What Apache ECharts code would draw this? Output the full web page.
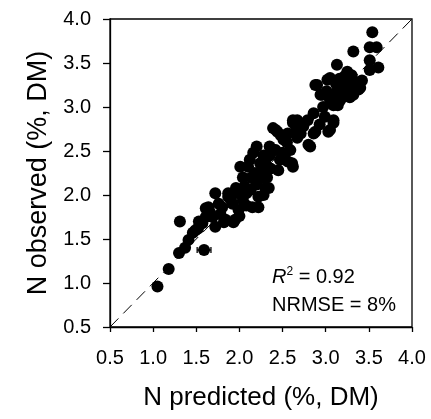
<!DOCTYPE html>
<html><head><meta charset="utf-8">
<script src="https://cdn.jsdelivr.net/npm/echarts@6/dist/echarts.min.js"></script>
<style>html,body{margin:0;padding:0;background:#fff}#c{width:431px;height:419px}</style>
</head><body><div id="c"></div>
<script>
var predicted = [1.05,1.18,1.30,1.37,1.41,1.46,1.49,1.52,1.57,1.31,1.61,1.64,1.61,1.69,1.72,1.72,1.80,1.82,1.84,1.87,1.87,1.93,1.95,1.99,1.99,2.04,2.04,2.10,2.01,2.13,2.15,2.22,2.22,2.16,2.24,2.27,2.30,2.34,2.32,2.30,2.30,2.45,2.39,2.42,2.47,2.59,2.61,2.62,2.44,2.42,2.39,2.51,2.56,2.67,2.71,2.62,2.62,2.67,2.79,2.80,2.82,2.86,2.88,3.03,3.05,3.09,2.99,2.86,3.09,3.09,3.14,3.08,2.94,2.96,2.88,2.90,3.02,3.05,3.20,3.32,3.25,3.28,3.18,3.13,3.32,3.54,3.51,3.59,3.51,3.51,3.61,3.32,3.05,3.17,2.14,2.06,1.92,2.20,2.36,3.22,3.28,3.35,3.25,3.38,
  1.76,1.90,1.96,2.08,2.18,2.26,2.12,2.20,2.35,2.50,2.55,2.48,2.66,2.74,2.93,2.97,3.01,3.12,3.16,3.30,3.42,3.40,1.53,1.66,1.78,2.00,2.08,2.28,2.28,2.35,2.52,2.56,3.20,3.27,3.10];
var observed  = [0.96,1.16,1.34,1.40,1.49,1.57,1.60,1.62,1.68,1.70,1.85,1.86,1.75,1.75,2.02,1.64,1.86,1.69,1.72,1.98,2.02,1.69,1.72,1.83,2.02,1.94,2.20,2.32,2.32,2.06,1.86,1.98,1.86,2.48,2.36,2.20,2.08,2.08,2.20,2.36,2.40,2.28,2.51,2.51,2.40,2.51,2.36,2.32,2.72,2.74,2.76,2.63,2.70,2.65,2.70,2.82,2.85,2.85,2.85,2.57,2.55,2.70,2.72,2.72,2.74,2.82,2.89,2.93,2.85,3.02,3.02,3.06,3.14,3.14,3.25,3.25,3.31,3.33,3.27,3.23,3.16,3.11,3.20,3.48,3.63,3.85,3.68,3.68,3.53,3.42,3.45,3.14,3.08,3.08,2.20,2.10,1.90,2.12,2.30,3.35,3.30,3.28,3.40,3.20,
  1.90,1.95,2.08,2.02,2.25,2.28,2.40,2.55,2.45,2.48,2.60,2.68,2.75,2.78,2.80,3.00,3.18,3.26,3.32,3.36,3.30,3.22,1.70,1.80,1.78,1.76,1.88,2.00,2.45,2.55,2.45,2.38,3.20,3.22,3.15];
// point with horizontal error bar: [predicted, observed, predicted SE]
var errPoint = [1.59, 1.375, 0.08];
var tickValues = [0.5,1.0,1.5,2.0,2.5,3.0,3.5,4.0];
var oneToOne = [[0.5,0.5],[4.0,4.0]];

var pts = predicted.map(function(x,i){return [x, observed[i]];});
pts.push([errPoint[0], errPoint[1]]);
var chart = echarts.init(document.getElementById('c'), null, {renderer:'canvas'});
var F = 'Liberation Sans, Arial, sans-serif';
function lbl(v){return v.toFixed(1);}
chart.setOption({
  animation:false,
  grid:{left:110,right:19,top:19,bottom:92,show:true,borderColor:'#000',borderWidth:1.3},
  xAxis:{type:'value',min:tickValues[0],max:tickValues[tickValues.length-1],interval:0.5,
    name:'N predicted (%, DM)',nameLocation:'middle',nameGap:58,
    nameTextStyle:{fontFamily:F,fontSize:26,color:'#000'},
    axisLine:{lineStyle:{color:'#000',width:1.3}},
    axisTick:{inside:false,length:5,lineStyle:{color:'#000',width:1.3}},
    axisLabel:{margin:21,fontFamily:F,fontSize:20,color:'#000',formatter:lbl},
    splitLine:{show:false}},
  yAxis:{type:'value',min:tickValues[0],max:tickValues[tickValues.length-1],interval:0.5,
    name:'N observed (%, DM)',nameLocation:'middle',nameGap:56,
    nameTextStyle:{fontFamily:F,fontSize:27,color:'#000'},
    axisLine:{lineStyle:{color:'#000',width:1.3}},
    axisTick:{inside:false,length:7,lineStyle:{color:'#000',width:1.3}},
    axisLabel:{margin:19,fontFamily:F,fontSize:20,color:'#000',formatter:lbl},
    splitLine:{show:false}},
  series:[
    {type:'line',data:oneToOne,symbol:'none',silent:true,
     lineStyle:{color:'#000',width:1,type:[12,7]},z:1},
    {type:'custom',data:[[errPoint[0]-errPoint[2],errPoint[0]+errPoint[2],errPoint[1]]],z:2,
     renderItem:function(params,api){
       var a=api.coord([api.value(0),api.value(2)]), b=api.coord([api.value(1),api.value(2)]);
       return {type:'group',children:[
         {type:'line',shape:{x1:a[0],y1:a[1],x2:b[0],y2:b[1]},style:{stroke:'#000',lineWidth:1.3}},
         {type:'line',shape:{x1:a[0],y1:a[1]-3,x2:a[0],y2:a[1]+3},style:{stroke:'#000',lineWidth:1.3}},
         {type:'line',shape:{x1:b[0],y1:b[1]-3,x2:b[0],y2:b[1]+3},style:{stroke:'#000',lineWidth:1.3}}
       ]};
     }},
    {type:'scatter',data:pts,symbol:'circle',symbolSize:12,itemStyle:{color:'#000',opacity:1},z:3}
  ],
  graphic:[
    {type:'text',left:272,top:266,style:{rich:{
        r:{fontFamily:F,fontSize:20,fontStyle:'italic',fill:'#000'},
        s:{fontFamily:F,fontSize:12,fill:'#000',verticalAlign:'top',padding:[0,0,10,0]},
        n:{fontFamily:F,fontSize:20,fill:'#000'}},
      text:'{r|R}{s|2}{n| = 0.92}'}},
    {type:'text',left:272,top:295,style:{text:'NRMSE = 8%',fontFamily:F,fontSize:20,fill:'#000'}}
  ]
});
</script></body></html>
